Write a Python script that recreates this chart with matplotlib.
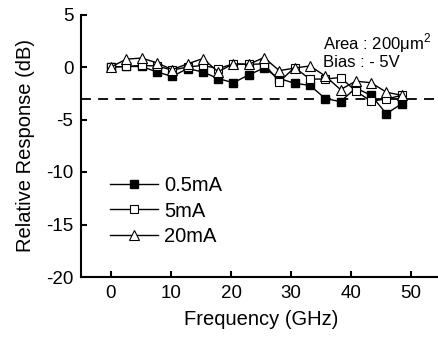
import matplotlib
matplotlib.use("Agg")
import matplotlib.pyplot as plt

plt.rcParams['font.family'] = ['Liberation Sans', 'DejaVu Sans']
plt.rcParams['mathtext.fontset'] = 'custom'
plt.rcParams['mathtext.rm'] = 'Liberation Sans'
plt.rcParams['axes.unicode_minus'] = False

freq = [0.0, 2.55, 5.1, 7.65, 10.2, 12.75, 15.3, 17.85, 20.4, 22.95,
        25.5, 28.05, 30.6, 33.15, 35.7, 38.25, 40.8, 43.35, 45.9, 48.45]
resp_05mA = [0.0, 0.05, 0.05, -0.47, -0.9, -0.15, -0.47, -1.1, -1.5, -0.75,
             -0.1, -1.1, -1.55, -1.75, -3.0, -3.3, -2.0, -2.7, -4.45, -3.5]
resp_5mA = [0.0, 0.05, 0.15, 0.1, -0.3, 0.0, 0.15, -0.15, 0.3, 0.25,
            0.3, -1.4, -0.05, -1.15, -1.15, -1.0, -2.3, -3.25, -3.05, -2.7]
resp_20mA = [0.0, 0.75, 0.85, 0.4, -0.25, 0.3, 0.8, -0.45, 0.3, 0.25,
             0.9, -0.35, -0.1, 0.1, -0.85, -2.15, -1.35, -1.5, -2.4, -2.7]
labels = ['0.5mA', '5mA', '20mA']
x_ticks = [0, 10, 20, 30, 40, 50]
y_ticks = [5, 0, -5, -10, -15, -20]
ref_level = -3

fig = plt.figure(figsize=(4.38, 3.41), dpi=100)
ax = fig.add_axes([81 / 438, 1 - 277 / 341, 360 / 438, 262.5 / 341])

ax.axhline(ref_level, color='black', lw=1.3, ls=(0, (5.5, 4)), zorder=1)

ax.plot(freq, resp_05mA, color='black', lw=1.0, marker='s', ms=5.3,
        mfc='black', mec='black', label=labels[0], zorder=2)
ax.plot(freq, resp_5mA, color='black', lw=1.0, marker='s', ms=5.3,
        mfc='white', mec='black', mew=0.8, label=labels[1], zorder=3)
ax.plot(freq, resp_20mA, color='black', lw=1.0, marker='^', ms=7,
        mfc='white', mec='black', mew=0.8, label=labels[2], zorder=4)

ax.set_xlim(-5, 55)
ax.set_ylim(-20, 5)
ax.set_xticks(x_ticks)
ax.set_yticks(y_ticks)
ax.tick_params(direction='in', length=4, width=1.5, labelsize=13.5, pad=5.5)
for s in ['top', 'right']:
    ax.spines[s].set_visible(False)
for s in ['left', 'bottom']:
    ax.spines[s].set_linewidth(1.5)

ax.set_xlabel('Frequency (GHz)', fontsize=14.5, labelpad=6)
ax.set_ylabel('Relative Response (dB)', fontsize=14.5, labelpad=8)

ax.text(0.671, 0.8686, 'Area : 200μm$^2$', transform=ax.transAxes, fontsize=12,
        va='baseline', ha='left')
ax.text(0.671, 0.801, 'Bias : - 5V', transform=ax.transAxes, fontsize=12,
        va='baseline', ha='left')

leg = ax.legend(loc='center left', bbox_to_anchor=(0.0806, 0.2514), frameon=False,
                fontsize=14.5, handlelength=2.4, labelspacing=0.32, handletextpad=0.3,
                borderpad=0, borderaxespad=0)

fig.savefig('out.png', dpi=100)
